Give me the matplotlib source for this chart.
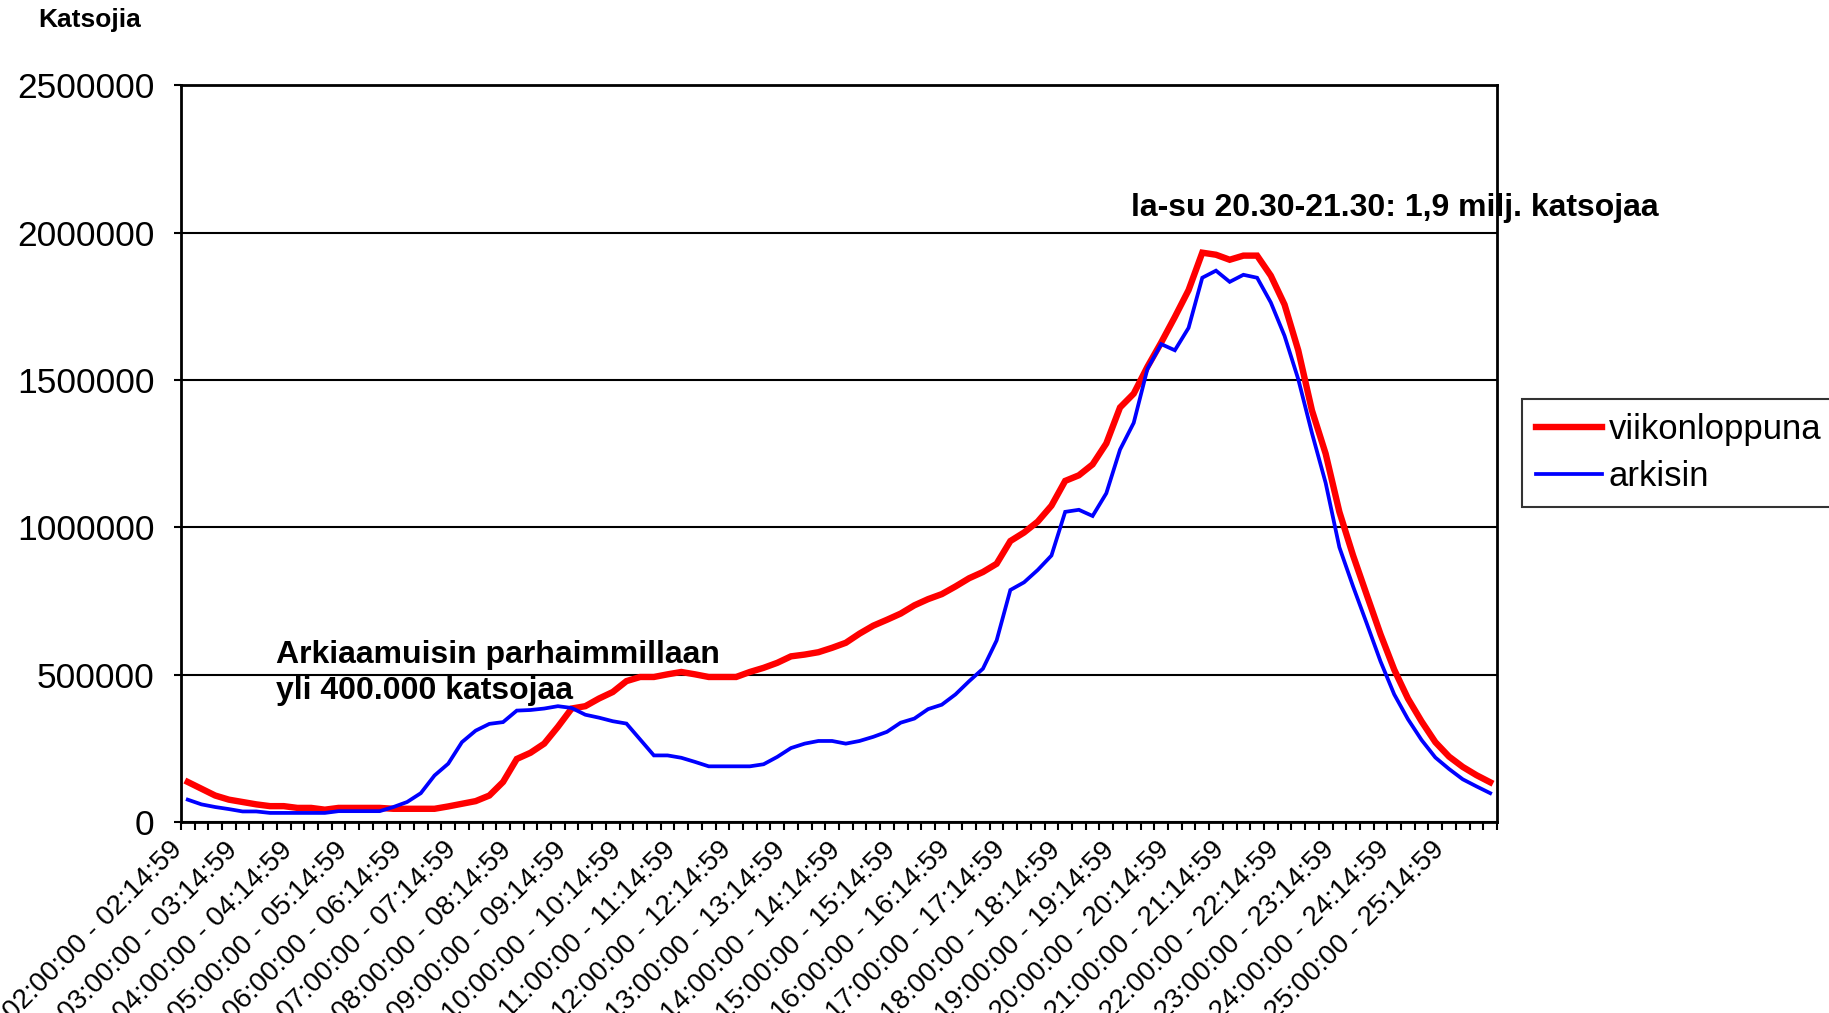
import numpy as np
import matplotlib
matplotlib.use('Agg')
import matplotlib.pyplot as plt
import matplotlib.transforms as mtransforms
from matplotlib.ticker import FuncFormatter

plt.rcParams['font.family'] = ['Liberation Sans', 'DejaVu Sans']

# 1. data: viewers per 15 min slot, 02:00 - 25:59
viikonloppuna = [137, 114, 91, 77, 69, 61, 55, 55, 49, 49, 43, 49, 49, 49, 49, 46,
                 46, 46, 46, 54, 63, 72, 91, 137, 215, 236, 267, 324, 386, 394, 420, 442,
                 479, 493, 493, 502, 510, 502, 493, 493, 493, 510, 524, 541, 563, 569, 577, 592,
                 609, 640, 667, 687, 708, 736, 757, 774, 800, 828, 849, 877, 954, 983, 1020, 1074,
                 1158, 1177, 1214, 1285, 1407, 1454, 1545, 1627, 1714, 1805, 1932, 1925, 1908, 1922, 1922, 1854,
                 1756, 1601, 1397, 1250, 1053, 905, 771, 638, 518, 420, 342, 272, 223, 188, 160, 136]
arkisin = [77, 61, 52, 45, 37, 37, 32, 32, 32, 32, 32, 38, 38, 38, 38, 52,
           69, 99, 159, 199, 272, 311, 334, 340, 379, 381, 386, 394, 388, 365, 355, 343,
           335, 281, 227, 227, 219, 205, 190, 190, 190, 190, 197, 222, 252, 267, 276, 276,
           267, 276, 290, 307, 338, 352, 384, 399, 434, 479, 521, 617, 788, 814, 856, 905,
           1053, 1060, 1039, 1116, 1264, 1355, 1538, 1622, 1601, 1677, 1847, 1871, 1833, 1857, 1847, 1763,
           1650, 1503, 1320, 1151, 933, 800, 674, 546, 434, 350, 279, 220, 181, 146, 122, 99]
tick_labels = ['02:00:00 - 02:14:59', '03:00:00 - 03:14:59', '04:00:00 - 04:14:59',
               '05:00:00 - 05:14:59', '06:00:00 - 06:14:59', '07:00:00 - 07:14:59',
               '08:00:00 - 08:14:59', '09:00:00 - 09:14:59', '10:00:00 - 10:14:59',
               '11:00:00 - 11:14:59', '12:00:00 - 12:14:59', '13:00:00 - 13:14:59',
               '14:00:00 - 14:14:59', '15:00:00 - 15:14:59', '16:00:00 - 16:14:59',
               '17:00:00 - 17:14:59', '18:00:00 - 18:14:59', '19:00:00 - 19:14:59',
               '20:00:00 - 20:14:59', '21:00:00 - 21:14:59', '22:00:00 - 22:14:59',
               '23:00:00 - 23:14:59', '24:00:00 - 24:14:59', '25:00:00 - 25:14:59']

we = np.array(viikonloppuna) * 1000
wd = np.array(arkisin) * 1000
x = np.arange(len(we))

# 2. figure
fig = plt.figure(figsize=(18.29, 10.13), dpi=100)
ax = fig.add_axes([0.0989, 0.1882, 0.7196, 0.7277])

ax.plot(x, we, color='#ff0000', lw=4.6, label='viikonloppuna', solid_joinstyle='miter', zorder=3)
ax.plot(x, wd, color='#0000ff', lw=2.7, label='arkisin', solid_joinstyle='miter', zorder=4)

ax.set_xlim(-0.5, len(x) - 0.5)
ax.set_ylim(0, 2500000)
ax.set_yticks(np.arange(0, 2500001, 500000))
ax.yaxis.set_major_formatter(FuncFormatter(lambda v, p: '%d' % v))
ax.grid(axis='y', color='black', lw=1.5)
ax.set_axisbelow(True)

ax.set_xticks(np.arange(0, len(x), 4))
ax.set_xticklabels(tick_labels, rotation=45, ha='right', va='center', rotation_mode='anchor')
ax.set_xticks(np.arange(-0.5, len(x), 1), minor=True)
ax.tick_params(axis='x', which='major', length=0, pad=17, labelsize=20)
ax.tick_params(axis='x', which='minor', length=6, width=1.5, direction='out')
ax.tick_params(axis='y', length=5, width=1.5, pad=14, labelsize=25.5)
shift = mtransforms.ScaledTranslation(-0.09, 0, fig.dpi_scale_trans)
for lab in ax.get_xticklabels():
    lab.set_transform(lab.get_transform() + shift)
for s in ax.spines.values():
    s.set_linewidth(2)
    s.set_color('black')

# 3. texts
fig.text(0.021, 0.992, 'Katsojia', fontsize=19, fontweight='bold', va='top', ha='left')
ax.text(6.45, 620000, 'Arkiaamuisin parhaimmillaan\nyli 400.000 katsojaa', fontsize=23,
        fontweight='bold', va='top', ha='left', linespacing=1.28)
ax.text(68.8, 2056000, 'la-su 20.30-21.30: 1,9 milj. katsojaa', fontsize=23,
        fontweight='bold', va='baseline', ha='left', clip_on=False, zorder=2)

leg = fig.legend(loc='upper left', bbox_to_anchor=(0.832, 0.606), fontsize=25,
                 frameon=True, fancybox=False, edgecolor='black', handlelength=1.9,
                 borderaxespad=0, borderpad=0.4, labelspacing=0.4, handletextpad=0.2)
leg.get_frame().set_linewidth(1.5)

# 4. save
plt.savefig('out.png', dpi=100)
